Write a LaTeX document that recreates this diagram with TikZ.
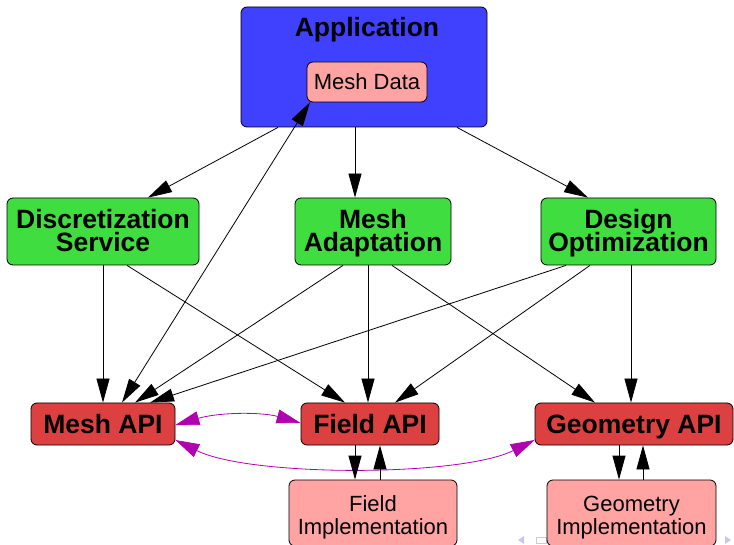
\documentclass[tikz,border=0pt]{standalone}
\usepackage{fontspec}
\setmainfont{Liberation Sans}
\usetikzlibrary{arrows.meta}
\definecolor{appblue}{HTML}{4040FF}
\definecolor{svcgreen}{HTML}{40DD40}
\definecolor{apired}{HTML}{DD4040}
\definecolor{implpink}{HTML}{FFA3A3}
\definecolor{linkmag}{HTML}{B000B0}
\definecolor{navgray}{HTML}{C8C8EE}
\begin{document}
\begin{tikzpicture}[x=1pt,y=-1pt,
  box/.style={draw=black, line width=0.8pt, rounded corners=6pt, inner sep=0pt, align=center},
  appbox/.style={box, fill=appblue},
  svc/.style={box, fill=svcgreen, minimum height=67pt},
  api/.style={box, fill=apired, minimum height=42pt, text height=18pt, text depth=0pt, font=\fontsize{26.5}{24}\selectfont\bfseries},
  impl/.style={box, fill=implpink},
  boldtext/.style={anchor=base, inner sep=0pt, font=\fontsize{26.5}{24}\selectfont\bfseries},
  plaintext/.style={anchor=base, inner sep=0pt, font=\fontsize{22}{24}\selectfont},
  dep/.style={-{Triangle[length=24pt,width=13pt]}, line width=0.8pt, black},
  dep2/.style={{Triangle[length=24pt,width=13pt]}-{Triangle[length=24pt,width=13pt]}, line width=0.8pt, black},
  link/.style={{Triangle[length=24pt,width=14pt]}-{Triangle[length=24pt,width=14pt]}, line width=0.8pt, linkmag},
  nav/.style={fill=navgray, draw=none}]
\useasboundingbox (0,0) rectangle (734,545);

% navigation symbols
\fill[nav] (518,540) -- (524,536) -- (524,544) -- cycle;
\draw[navgray, line width=0.8pt] (536,537) rectangle (546,543);
\fill[nav] (731,540) -- (725,536) -- (725,544) -- cycle;

% application
\node[appbox, minimum width=246pt, minimum height=120pt] (app) at (364,67) {};
\node[boldtext] (apptitle) at (367,37) {Application};
\node[impl, minimum width=120pt, minimum height=40pt] (meshdata) at (367,82) {};
\node[plaintext] (meshdatatext) at (367,90) {Mesh Data};

% services
\node[svc, minimum width=192pt] (disc) at (103,231.5) {};
\node[boldtext] (disc1) at (103,228.5) {Discretization};
\node[boldtext] (disc2) at (103,252) {Service};
\node[svc, minimum width=156pt] (adapt) at (373,231.5) {};
\node[boldtext] (adapt1) at (373,228.5) {Mesh};
\node[boldtext] (adapt2) at (373,252) {Adaptation};
\node[svc, minimum width=175pt] (design) at (628.5,231.5) {};
\node[boldtext] (design1) at (628.5,228.5) {Design};
\node[boldtext] (design2) at (628.5,252) {Optimization};

% APIs
\node[api, minimum width=144pt] (meshapi) at (103,424) {Mesh API};
\node[api, minimum width=138pt] (fieldapi) at (370,424) {Field API};
\node[api, minimum width=198pt] (geomapi) at (634,424) {Geometry API};

% implementations
\node[impl, minimum width=168pt, minimum height=66pt] (fieldimpl) at (373,513) {};
\node[plaintext] (fieldimpl1) at (373,511) {Field};
\node[plaintext] (fieldimpl2) at (373,534.5) {Implementation};
\node[impl, minimum width=169pt, minimum height=66pt] (geomimpl) at (631.5,513) {};
\node[plaintext] (geomimpl1) at (631.5,511) {Geometry};
\node[plaintext] (geomimpl2) at (631.5,534.5) {Implementation};

% application to services
\draw[dep] ([xshift=-86pt]app.south) -- ([xshift=45pt]disc.north);
\draw[dep] ([xshift=-9pt]app.south) -- ([xshift=-18pt]adapt.north);
\draw[dep] ([xshift=93pt]app.south) -- ([xshift=-40.5pt]design.north);

% mesh data <-> mesh api
\draw[dep2] ([xshift=-57pt]meshdata.south) -- ([xshift=19pt]meshapi.north);

% services to APIs
\draw[dep] (disc.south) -- (meshapi.north);
\draw[dep] ([xshift=24pt]disc.south) -- ([xshift=-25pt]fieldapi.north);
\draw[dep] ([xshift=-30pt]adapt.south) -- ([xshift=32pt]meshapi.north);
\draw[dep] ([xshift=-5pt]adapt.south) -- ([xshift=-2pt]fieldapi.north);
\draw[dep] ([xshift=19pt]adapt.south) -- ([xshift=-39pt]geomapi.north);
\draw[dep] ([xshift=-62.5pt]design.south) -- ([xshift=47pt]meshapi.north);
\draw[dep] ([xshift=-38.5pt]design.south) -- ([xshift=25pt]fieldapi.north);
\draw[dep] ([xshift=2.5pt]design.south) -- ([xshift=-3pt]geomapi.north);

% API <-> API
\draw[link] ([yshift=-1pt]meshapi.east) .. controls (220,412) and (262,412) .. ([yshift=1pt]fieldapi.west);
\draw[link] ([yshift=-16pt]meshapi.east) .. controls (250,477) and (460,477) .. ([yshift=-16pt]geomapi.west);

% API <-> implementations
\draw[dep] ([xshift=-15pt]fieldapi.south) -- ([xshift=-18pt]fieldimpl.north);
\draw[dep] ([xshift=7pt]fieldimpl.north) -- ([xshift=10pt]fieldapi.south);
\draw[dep] ([xshift=-15pt]geomapi.south) -- ([xshift=-12.5pt]geomimpl.north);
\draw[dep] ([xshift=11.5pt]geomimpl.north) -- ([xshift=9pt]geomapi.south);
\end{tikzpicture}
\end{document}
